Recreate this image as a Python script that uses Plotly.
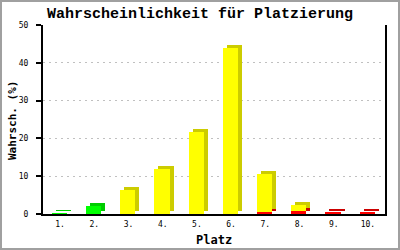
import plotly.graph_objects as go

categories = ["1.", "2.", "3.", "4.", "5.", "6.", "7.", "8.", "9.", "10."]
red_vals = [0, 0, 0, 0, 0, 0, 0.5, 0.9, 0.4, 0.45]
yellow_vals = [0, 0, 6.4, 11.9, 21.75, 43.8, 10.2, 1.5, 0.25, 0]
green_vals = [0.2, 2.1, 0, 0, 0, 0, 0, 0, 0, 0]
y_ticks = [0, 10, 20, 30, 40, 50]

title_text = "Wahrscheinlichkeit für Platzierung"
x_title = "Platz"
y_title = "Wahrsch. (%)"

# series order bottom->top with (front colour, side colour)
series = [
    (red_vals, "#ff0000", "#cc0000"),
    (yellow_vals, "#ffff00", "#cccc00"),
    (green_vals, "#00ff00", "#00cc00"),
]

BAR_W = 0.44
OFF = -0.24
DX = 0.117   # depth shift in category units
DY = 0.8     # depth shift in value units

fig = go.Figure()
cum = [0.0] * len(categories)
for vals, front, side in series:
    bases = list(cum)
    fig.add_trace(go.Bar(
        x=categories, y=vals, base=[b + DY for b in bases],
        width=BAR_W, offset=OFF + DX,
        marker=dict(color=side, line=dict(width=0)),
        hoverinfo="skip", showlegend=False))
    fig.add_trace(go.Bar(
        x=categories, y=vals, base=bases,
        width=BAR_W, offset=OFF,
        marker=dict(color=front, line=dict(width=0)),
        hoverinfo="skip", showlegend=False))
    cum = [c + v for c, v in zip(cum, vals)]

L, R, T, B = 43, 15, 25, 36
W, H = 400, 250
pw = W - L - R
ph = H - T - B

def px_x(p):
    return (p - L) / pw

def px_y(p):
    return (H - B - p) / ph

fig.add_shape(type="rect", xref="paper", yref="paper",
              x0=px_x(1), x1=px_x(399), y0=px_y(249), y1=px_y(1),
              line=dict(color="#a0a0a0", width=2), fillcolor="rgba(0,0,0,0)",
              layer="above")

fig.add_annotation(text=y_title, xref="paper", yref="paper",
                   x=px_x(12), y=px_y(121), textangle=-90, showarrow=False,
                   xanchor="center", yanchor="middle",
                   font=dict(family="DejaVu Sans Mono", size=11, color="black", weight="bold"))
fig.add_annotation(text=x_title, xref="paper", yref="paper",
                   x=px_x(214), y=px_y(240), showarrow=False,
                   xanchor="center", yanchor="middle",
                   font=dict(family="DejaVu Sans Mono", size=12, color="black", weight="bold"))

fig.update_layout(
    width=W, height=H,
    margin=dict(l=L, r=R, t=T, b=B, autoexpand=False),
    paper_bgcolor="white", plot_bgcolor="white",
    barmode="overlay", bargap=0,
    title=dict(text=title_text, x=0.5, xref="container", xanchor="center",
               y=1 - 13 / H, yanchor="middle",
               font=dict(family="Liberation Mono", size=15, color="black", weight="bold")),
    xaxis=dict(type="category", categoryorder="array", categoryarray=categories,
               range=[-0.5, 9.5], automargin=False,
               showline=True, linecolor="black", linewidth=2, ticks="",
               showgrid=False, zeroline=False, ticklabelstandoff=1,
               tickfont=dict(family="DejaVu Sans Mono", size=8, color="black")),
    yaxis=dict(range=[0, 50], tickvals=y_ticks, automargin=False,
               showline=True, linecolor="black", linewidth=2, mirror=True,
               ticks="outside", ticklen=5, tickcolor="black", tickwidth=2,
               showgrid=True, gridcolor="#c0c0c0", griddash="2px,4px", gridwidth=1,
               zeroline=False, ticklabelstandoff=6,
               tickfont=dict(family="DejaVu Sans Mono", size=8, color="black")),
)

fig.write_html("out.html", config={"displayModeBar": False, "staticPlot": True})
